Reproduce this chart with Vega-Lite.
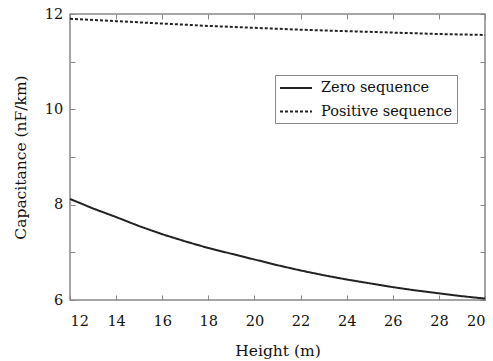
{
  "$schema": "https://vega.github.io/schema/vega-lite/v6.json",
  "width": 415,
  "height": 286,
  "autosize": "none",
  "padding": {"left": 70, "top": 14, "right": 8, "bottom": 61},
  "data": {"values": [
    {"h": 12, "c": 8.12, "s": "Zero sequence"},
    {"h": 13, "c": 7.92, "s": "Zero sequence"},
    {"h": 14, "c": 7.74, "s": "Zero sequence"},
    {"h": 15, "c": 7.55, "s": "Zero sequence"},
    {"h": 16, "c": 7.38, "s": "Zero sequence"},
    {"h": 17, "c": 7.23, "s": "Zero sequence"},
    {"h": 18, "c": 7.09, "s": "Zero sequence"},
    {"h": 19, "c": 6.97, "s": "Zero sequence"},
    {"h": 20, "c": 6.85, "s": "Zero sequence"},
    {"h": 21, "c": 6.73, "s": "Zero sequence"},
    {"h": 22, "c": 6.62, "s": "Zero sequence"},
    {"h": 23, "c": 6.52, "s": "Zero sequence"},
    {"h": 24, "c": 6.43, "s": "Zero sequence"},
    {"h": 25, "c": 6.35, "s": "Zero sequence"},
    {"h": 26, "c": 6.27, "s": "Zero sequence"},
    {"h": 27, "c": 6.2, "s": "Zero sequence"},
    {"h": 28, "c": 6.14, "s": "Zero sequence"},
    {"h": 29, "c": 6.08, "s": "Zero sequence"},
    {"h": 30, "c": 6.03, "s": "Zero sequence"},
    {"h": 12, "c": 11.9, "s": "Positive sequence"},
    {"h": 14, "c": 11.85, "s": "Positive sequence"},
    {"h": 16, "c": 11.8, "s": "Positive sequence"},
    {"h": 18, "c": 11.75, "s": "Positive sequence"},
    {"h": 20, "c": 11.71, "s": "Positive sequence"},
    {"h": 22, "c": 11.67, "s": "Positive sequence"},
    {"h": 24, "c": 11.64, "s": "Positive sequence"},
    {"h": 26, "c": 11.61, "s": "Positive sequence"},
    {"h": 28, "c": 11.58, "s": "Positive sequence"},
    {"h": 30, "c": 11.56, "s": "Positive sequence"}
  ]},
  "layer": [
    {
      "mark": {"type": "line", "color": "#222", "strokeWidth": 2},
      "encoding": {
        "x": {"field": "h", "type": "quantitative", "scale": {"domain": [12, 30], "nice": false},
              "axis": {"orient": "bottom", "title": "Height (m)", "values": [12,14,16,18,20,22,24,26,28,30],
                       "ticks": true, "tickSize": 5, "tickColor": "#888", "tickWidth": 1, "offset": -5, "domain": false,
                       "labelExpr": "datum.value == 30 ? '20' : datum.label", "labelPadding": 14, "titlePadding": 16}},
        "y": {"field": "c", "type": "quantitative", "scale": {"domain": [6, 12], "nice": false},
              "axis": {"orient": "left", "title": "Capacitance (nF/km)", "values": [6,7,8,9,10,11,12],
                       "ticks": true, "tickSize": 5, "tickColor": "#888", "tickWidth": 1, "offset": -5, "domain": false,
                       "labelExpr": "datum.value % 2 == 0 ? datum.label : ''", "labelPadding": 7.3, "titlePadding": 16}},
        "strokeDash": {"field": "s", "type": "nominal",
                       "scale": {"domain": ["Zero sequence", "Positive sequence"], "range": [[1, 0], [3, 2]]},
                       "legend": {"title": null, "orient": "none", "legendX": 205, "legendY": 61}}
      }
    },
    {
      "mark": {"type": "line", "opacity": 0},
      "encoding": {
        "x": {"field": "h", "type": "quantitative",
              "axis": {"orient": "top", "title": null, "labels": false, "values": [12,14,16,18,20,22,24,26,28,30],
                       "ticks": true, "tickSize": 5, "tickColor": "#888", "tickWidth": 1, "offset": -5, "domain": false}},
        "y": {"field": "c", "type": "quantitative",
              "axis": {"orient": "right", "title": null, "labels": false, "values": [6,7,8,9,10,11,12],
                       "ticks": true, "tickSize": 5, "tickColor": "#888", "tickWidth": 1, "offset": -5, "domain": false}},
        "detail": {"field": "s"}
      }
    }
  ],
  "resolve": {"axis": {"x": "independent", "y": "independent"}},
  "config": {
    "view": {"stroke": "#888", "strokeWidth": 1.5},
    "axis": {
      "grid": false,
      "labelFont": "DejaVu Serif",
      "labelFontSize": 14.5,
      "labelColor": "#111",
      "titleFont": "DejaVu Serif",
      "titleFontSize": 15.5,
      "titleFontWeight": "normal",
      "titleColor": "#111"
    },
    "legend": {
      "strokeColor": "#888",
      "fillColor": "white",
      "padding": 4,
      "symbolType": "M-1,0L3,0",
      "symbolSize": 256,
      "symbolStrokeWidth": 2,
      "symbolStrokeColor": "#222",
      "labelFont": "DejaVu Serif",
      "labelFontSize": 14.5,
      "labelColor": "#111",
      "labelOffset": 24,
      "rowPadding": 7.6
    }
  }
}
